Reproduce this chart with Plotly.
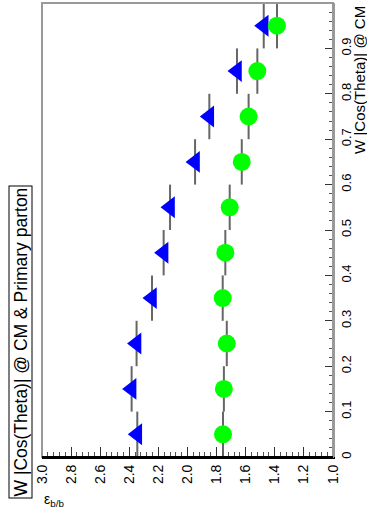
import plotly.graph_objects as go

# |cos(theta)| bin centres
cos_bins = [0.05, 0.15, 0.25, 0.35, 0.45, 0.55, 0.65, 0.75, 0.85, 0.95]
bin_half = [0.05] * 10
# green circles
green_vals = [1.756, 1.75, 1.73, 1.758, 1.74, 1.71, 1.627, 1.58, 1.52, 1.385]
# blue triangles
blue_vals = [2.345, 2.384, 2.35, 2.244, 2.164, 2.12, 1.948, 1.85, 1.66, 1.476]

x_ticks = [3.0, 2.8, 2.6, 2.4, 2.2, 2.0, 1.8, 1.6, 1.4, 1.2, 1.0]
y_ticks = [0, 0.1, 0.2, 0.3, 0.4, 0.5, 0.6, 0.7, 0.8, 0.9, 1.0]
y_tick_text = ["0", "0.1", "0.2", "0.3", "0.4", "0.5", "0.6", "0.7", "0.8", "0.9", "1"]

FONT = "Liberation Sans, Arial, sans-serif"

fig = go.Figure()
fig.add_trace(go.Scatter(
    x=blue_vals, y=cos_bins, mode="markers",
    marker=dict(symbol="triangle-left", size=19, color="#0000ff", line=dict(width=0)),
    error_y=dict(type="data", array=bin_half, color="#666666", thickness=2, width=0),
    showlegend=False))
fig.add_trace(go.Scatter(
    x=green_vals, y=cos_bins, mode="markers",
    marker=dict(symbol="circle", size=18, color="#00ff00", line=dict(width=0)),
    error_y=dict(type="data", array=bin_half, color="#666666", thickness=2, width=0),
    showlegend=False))

fig.update_layout(
    width=367, height=527,
    margin=dict(l=42, r=34, t=3, b=70),
    paper_bgcolor="white", plot_bgcolor="white",
    font=dict(family=FONT, color="black"),
    xaxis=dict(range=[3.0, 1.0], tickvals=x_ticks, tickformat=".1f",
               tickangle=-90, tickfont=dict(size=14, family=FONT),
               ticks="inside", ticklen=10, tickwidth=1, tickcolor="#333",
               minor=dict(dtick=0.04, ticks="inside", ticklen=5, tickcolor="#555"),
               showgrid=False, zeroline=False,
               showline=True, linecolor="black", linewidth=2),
    yaxis=dict(range=[0, 1], side="right", tickvals=y_ticks, ticktext=y_tick_text,
               tickangle=-90, tickfont=dict(size=13, family=FONT),
               ticks="inside", ticklen=8, tickwidth=1, tickcolor="#333",
               minor=dict(dtick=0.02, ticks="inside", ticklen=4, tickcolor="#555"),
               showgrid=False, zeroline=False,
               showline=True, linecolor="#999", linewidth=2),
)

# frame
fig.add_shape(type="rect", xref="paper", yref="paper", x0=0, x1=1, y0=0, y1=1,
              line=dict(color="#999", width=2), layer="above")
fig.add_shape(type="line", xref="paper", yref="paper", x0=0, x1=1, y0=0, y1=0,
              line=dict(color="black", width=2), layer="above")

# title box
fig.add_annotation(text="W |Cos(Theta)| @ CM & Primary parton",
                   xref="paper", yref="paper", x=(20 - 42) / 291, y=(457 - 342.5) / 454,
                   xanchor="center", yanchor="middle", textangle=-90, showarrow=False,
                   font=dict(size=17.5, family=FONT, color="black"),
                   bordercolor="black", borderwidth=1, borderpad=1, bgcolor="white")
# y axis title (right)
fig.add_annotation(text="W |Cos(Theta)| @ CM",
                   xref="paper", yref="paper", x=(360 - 42) / 291, y=0.998,
                   xanchor="center", yanchor="top", textangle=-90, showarrow=False,
                   font=dict(size=15, family=FONT, color="black"))
# x axis title
fig.add_annotation(text="ε<sub>b/b</sub>",
                   xref="paper", yref="paper", x=0.0, y=(457 - 500) / 454,
                   xanchor="left", yanchor="middle", showarrow=False,
                   font=dict(size=14, family=FONT, color="black"))

fig.write_html("out.html")
